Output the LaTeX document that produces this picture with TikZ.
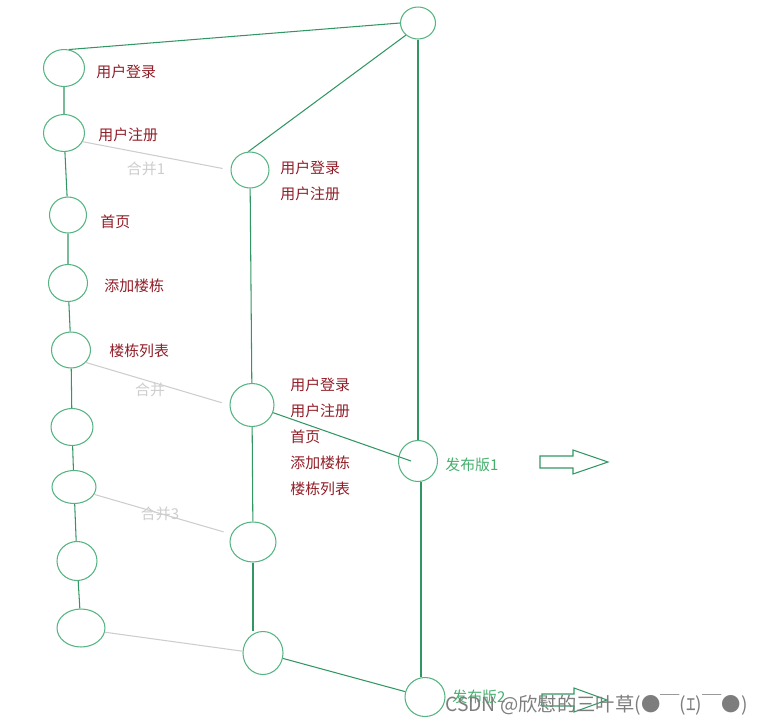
\documentclass[tikz,border=0pt]{standalone}
\usepackage{fontspec}
\setmainfont{Noto Sans CJK SC}
\usepackage{tikz}
\usetikzlibrary{shapes.geometric, positioning}
\definecolor{ringgreen}{RGB}{85, 180, 130}
\definecolor{branchgreen}{RGB}{50, 150, 100}
\definecolor{featred}{RGB}{145, 30, 40}
\definecolor{mergegray}{RGB}{205, 205, 205}
\definecolor{releasegreen}{RGB}{70, 175, 110}
\definecolor{markgray}{RGB}{125, 125, 125}

\begin{document}
\begin{tikzpicture}[
    x=0.02cm, y=-0.02cm,
    commit/.style = {ellipse, draw=ringgreen, line width=0.6pt, inner sep=0pt,
                     minimum width=0.82cm, minimum height=0.74cm},
    feat/.style   = {anchor=west, inner sep=0pt, text=featred, align=left,
                     font=\fontsize{8.5}{14.8}\selectfont},
    link/.style   = {draw=branchgreen, line width=0.6pt},
    merge/.style  = {draw=mergegray, line width=0.6pt},
    mlabel/.style = {inner sep=0pt, text=mergegray, font=\fontsize{8.5}{10}\selectfont},
    rel/.style    = {anchor=west, inner sep=0pt, text=releasegreen,
                     font=\fontsize{8.5}{10}\selectfont},
    bigarr/.style = {draw=branchgreen, line width=0.6pt, line join=miter},
  ]
  \useasboundingbox (0,0) rectangle (762,724);

  %% Feature branch (left)
  \node[commit] (login) at (64,68) {};
  \node[commit] (reg) at (64,133) {};
  \node[commit, minimum width=0.74cm, minimum height=0.72cm] (home) at (68,215) {};
  \node[commit, minimum width=0.78cm] (addbld) at (68,283) {};
  \node[commit, minimum width=0.78cm, minimum height=0.72cm] (bldlist) at (71,350) {};
  \node[commit, minimum width=0.84cm] (c6) at (72,427) {};
  \node[commit, minimum width=0.88cm, minimum height=0.66cm] (c7) at (74,487) {};
  \node[commit, minimum width=0.80cm, minimum height=0.78cm] (c8) at (77,561) {};
  \node[commit, minimum width=0.96cm, minimum height=0.76cm] (c9) at (81,628) {};

  %% Merge branch (middle)
  \node[commit, minimum width=0.76cm, minimum height=0.72cm] (merge1) at (250,170) {};
  \node[commit, minimum width=0.88cm, minimum height=0.86cm] (merge2) at (252,405) {};
  \node[commit, minimum width=0.92cm, minimum height=0.80cm] (merge3) at (253,542) {};
  \node[commit, minimum width=0.80cm, minimum height=0.86cm] (merge4) at (263,653) {};

  %% Release branch (right)
  \node[commit, minimum width=0.70cm, minimum height=0.64cm] (master) at (418,23) {};
  \node[commit, minimum width=0.78cm, minimum height=0.82cm] (rel1) at (418,461) {};
  \node[commit, minimum width=0.80cm, minimum height=0.78cm] (rel2) at (425,697) {};

  %% Feature labels
  \node[feat] (tlogin) at (96,72) {用户登录};
  \node[feat] (treg) at (98,135) {用户注册};
  \node[feat] (thome) at (100,222) {首页};
  \node[feat] (taddbld) at (104,286) {添加楼栋};
  \node[feat] (tbldlist) at (109,351) {楼栋列表};
  \node[feat] (tmerge1) at (280,181) {用户登录\\用户注册};
  \node[feat] (tmerge2) at (290,437) {用户登录\\用户注册\\首页\\添加楼栋\\楼栋列表};

  %% Branch lines
  \draw[link] (login) -- (reg) -- (home) -- (addbld) -- (bldlist) -- (c6) -- (c7) -- (c8) -- (c9);
  \draw[link] (login.75) -- (master.west);
  \draw[link] (master.225) -- (merge1.95);
  \draw[link] (master) -- (rel1);
  \draw[link] ([xshift=0.06cm]rel1.south) -- ([xshift=0.06cm]rel1.south |- rel2.north);
  \draw[link] (merge1) -- (merge2) -- (merge3);
  \draw[link] (merge3.south) -- (merge3.south |- merge4.north);
  \draw[link] (merge2.-20) -- ([xshift=-0.14cm]rel1.center);
  \draw[link] (merge4) -- (rel2);

  %% Merges
  \draw[merge, shorten >=0.16cm] (reg.-25) -- (merge1.west);
  \draw[merge, shorten >=0.16cm] (bldlist.-40) -- (merge2.west);
  \draw[merge, shorten >=0.16cm] (c7.-20) -- (merge3.160);
  \draw[merge] (c9.-10) -- (merge4.175);
  \node[mlabel] (m1lbl) at (146,169) {合并1};
  \node[mlabel] (m2lbl) at (150,390) {合并};
  \node[mlabel] (m3lbl) at (160,514) {合并3};

  %% Releases
  \node[rel] (trel1) at (445,465) {发布版1};
  \node[rel] (trel2) at (452,697) {发布版2};
  \coordinate (arr1) at (540,462);
  \coordinate (arr2) at (542,700);
  \draw[bigarr] (arr1) ++(0,-6) -- ++(33,0) -- ++(0,-6) -- ++(35,12) -- ++(-35,12) -- ++(0,-6) -- ++(-33,0) -- cycle;
  \draw[bigarr] (arr2) ++(0,-6) -- ++(32,0) -- ++(0,-6) -- ++(33,12) -- ++(-33,12) -- ++(0,-6) -- ++(-32,0) -- cycle;

  \node[anchor=west, inner sep=0pt, text=markgray, font=\fontsize{11}{13}\selectfont] (mark) at (445,705) {CSDN @欣慰的三叶草(●￣(ｴ)￣●)};

\end{tikzpicture}
\end{document}
